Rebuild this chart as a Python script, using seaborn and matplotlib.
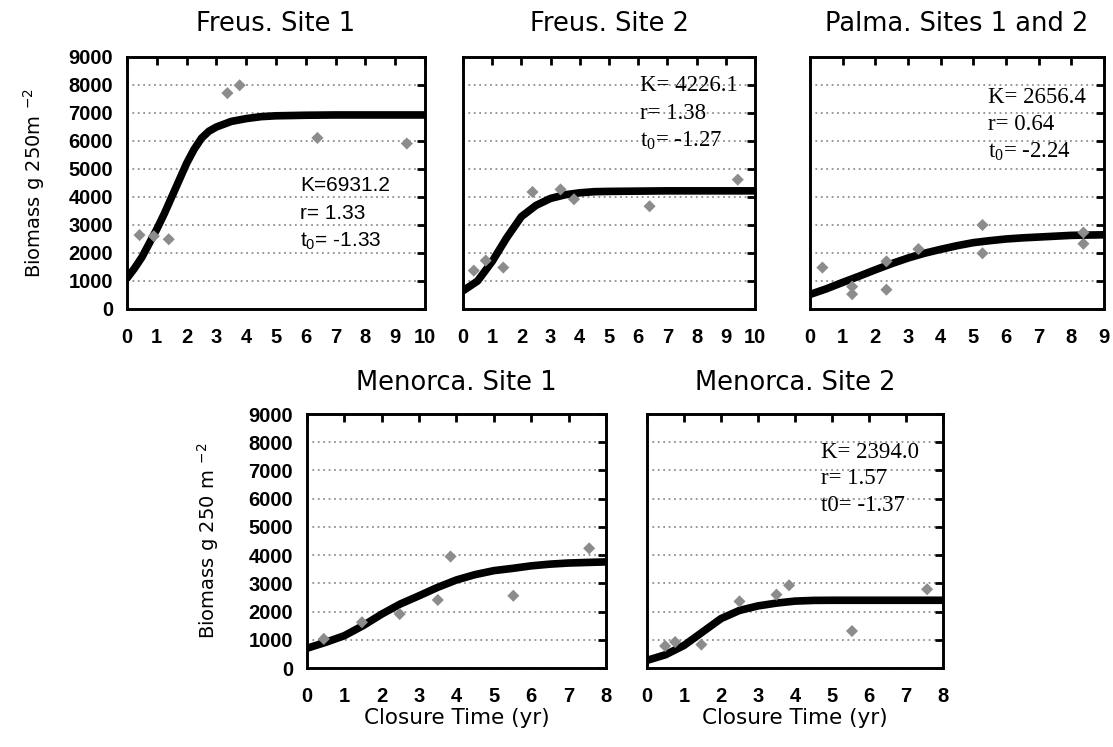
import numpy as np
import pandas as pd
import matplotlib
matplotlib.use("Agg")
import matplotlib.pyplot as plt
import seaborn as sns

# ---------------- data ----------------
titles = ["Freus. Site 1", "Freus. Site 2", "Palma. Sites 1 and 2",
          "Menorca. Site 1", "Menorca. Site 2"]
x_max = [10, 10, 9, 8, 8]

# observed biomass points
obs1_x = [0.42, 0.9, 1.40, 3.37, 3.78, 6.39, 9.39]
obs1_y = [2640, 2600, 2490, 7710, 7990, 6110, 5910]
obs2_x = [0.37, 0.78, 1.38, 2.38, 3.34, 3.80, 6.39, 9.41]
obs2_y = [1370, 1730, 1480, 4180, 4270, 3920, 3670, 4620]
obs3_x = [0.38, 1.29, 1.29, 2.34, 2.34, 3.32, 5.28, 5.28, 8.37, 8.37]
obs3_y = [1480, 800, 530, 1700, 690, 2140, 3000, 1990, 2730, 2330]
obs4_x = [0.45, 1.47, 2.48, 3.50, 3.84, 5.52, 7.55]
obs4_y = [1030, 1620, 1910, 2410, 3950, 2560, 4240]
obs5_x = [0.49, 0.76, 1.47, 2.50, 3.50, 3.84, 5.54, 7.57]
obs5_y = [780, 920, 830, 2360, 2600, 2930, 1310, 2790]

# fitted curves
fit1_x = [0, 0.25, 0.5, 0.75, 1.0, 1.25, 1.5, 1.75, 2.0, 2.25, 2.5, 2.75, 3.0,
          3.5, 4.0, 4.5, 5, 6, 7, 8, 9, 10]
fit1_y = [1100, 1450, 1850, 2350, 2850, 3400, 4000, 4600, 5200, 5700, 6100,
          6350, 6500, 6700, 6800, 6870, 6900, 6920, 6930, 6930, 6930, 6930]
fit2_x = [0, 0.5, 1.0, 1.5, 2.0, 2.5, 3.0, 3.5, 4.0, 4.5, 5, 6, 7, 8, 9, 10]
fit2_y = [650, 1000, 1700, 2550, 3300, 3700, 3950, 4080, 4150, 4190, 4200,
          4210, 4220, 4220, 4220, 4220]
fit3_x = [0, 0.5, 1, 1.5, 2, 2.5, 3, 3.5, 4, 4.5, 5, 5.5, 6, 6.5, 7, 7.5, 8,
          8.5, 9]
fit3_y = [520, 720, 950, 1170, 1400, 1620, 1820, 1990, 2130, 2260, 2370, 2440,
          2500, 2540, 2570, 2600, 2630, 2640, 2650]
fit4_x = [0, 0.5, 1, 1.5, 2, 2.5, 3, 3.5, 4, 4.5, 5, 5.5, 6, 6.5, 7, 7.5, 8]
fit4_y = [700, 910, 1145, 1500, 1910, 2270, 2560, 2860, 3120, 3310, 3450,
          3530, 3620, 3680, 3720, 3740, 3760]
fit5_x = [0, 0.5, 1, 1.5, 2, 2.5, 3, 3.5, 4, 4.5, 5, 6, 7, 8]
fit5_y = [270, 470, 800, 1275, 1750, 2040, 2200, 2300, 2370, 2395, 2400,
          2400, 2400, 2400]

# model parameters text
param_lines = [
    ["K=6931.2", "r= 1.33", "t$_0$= -1.33"],
    ["K= 4226.1", "r= 1.38", "t$_0$= -1.27"],
    ["K= 2656.4", "r= 0.64", "t$_0$= -2.24"],
    None,
    ["K= 2394.0", "r= 1.57", "t0= -1.37"],
]

y_ticks = list(range(0, 9001, 1000))
y_label = "Biomass g 250m $^{-2}$"
y_label2 = "Biomass g 250 m $^{-2}$"
x_label = "Closure Time (yr)"

obs = [(obs1_x, obs1_y), (obs2_x, obs2_y), (obs3_x, obs3_y),
       (obs4_x, obs4_y), (obs5_x, obs5_y)]
fits = [(fit1_x, fit1_y), (fit2_x, fit2_y), (fit3_x, fit3_y),
        (fit4_x, fit4_y), (fit5_x, fit5_y)]

# ---------------- style ----------------
sns.set_style("white")
plt.rcParams["font.family"] = ["DejaVu Sans"]
plt.rcParams["mathtext.default"] = "regular"
for key in ["text.color", "axes.labelcolor", "xtick.color", "ytick.color",
            "axes.edgecolor"]:
    plt.rcParams[key] = "black"

fig = plt.figure(figsize=(11.13, 7.47), dpi=100)
W, H = 1113, 747
pix = [(127, 57, 425, 309), (463, 57, 755, 309), (810, 57, 1104, 309),
       (307, 414, 606, 668), (647, 414, 943, 668)]

# text placement (data coords) and fonts
text_pos = [(5.81, 4420, 1010), (6.05, 7990, 1000), (5.45, 7540, 960), None,
            (4.69, 7650, 950)]
text_family = ["Liberation Sans", "Liberation Serif", "Liberation Serif", None,
               "Liberation Serif"]
text_size = [15, 16.5, 16.5, None, 16.5]

for i in range(5):
    l, t, r, b = pix[i]
    ax = fig.add_axes([l / W, 1 - b / H, (r - l) / W, (b - t) / H])
    fx, fy = fits[i]
    ox, oy = obs[i]
    sns.lineplot(x=fx, y=fy, ax=ax, color="black", lw=5.5, zorder=3)
    sns.scatterplot(x=ox, y=oy, ax=ax, color="#8c8c8c", marker="D", s=38,
                    edgecolor="none", zorder=4)
    ax.set_xlim(0, x_max[i])
    ax.set_ylim(0, 9000)
    ax.set_xticks(range(0, x_max[i] + 1))
    ax.set_yticks(y_ticks)
    ax.set_axisbelow(True)
    ax.grid(axis="y", linestyle=(0, (1, 2)), color="#8f8f8f", lw=1.3)
    ax.grid(axis="x", visible=False)
    for s in ax.spines.values():
        s.set_visible(True)
        s.set_linewidth(2.1)
        s.set_color("black")
    ax.tick_params(axis="both", which="both", direction="in", top=True,
                   right=True, length=6, width=2.0, color="black",
                   labelcolor="black")
    ax.tick_params(axis="x", pad=14)
    ax.tick_params(axis="y", pad=10)
    for lab in ax.get_xticklabels() + ax.get_yticklabels():
        lab.set_fontfamily("Liberation Sans")
        lab.set_fontweight("bold")
        lab.set_fontsize(14.5)
    if i not in (0, 3):
        ax.tick_params(axis="y", labelleft=False)
    ax.set_title(titles[i], fontsize=18.5, pad=19 if i < 3 else 17,
                 color="black")
    if i == 0:
        ax.set_ylabel(y_label, fontsize=14)
        ax.yaxis.set_label_coords(-0.27, 0.5)
    elif i == 3:
        ax.set_ylabel(y_label2, fontsize=14)
        ax.yaxis.set_label_coords(-0.288, 0.5)
    else:
        ax.set_ylabel("")
    if i >= 3:
        ax.set_xlabel(x_label, fontsize=15.5, labelpad=1)
    else:
        ax.set_xlabel("")
    if param_lines[i] is not None:
        tx, ty, dy = text_pos[i]
        for k, line in enumerate(param_lines[i]):
            ax.text(tx, ty - k * dy, line, fontsize=text_size[i],
                    family=text_family[i], va="center", ha="left", zorder=5,
                    color="black")

fig.savefig("out.png", dpi=100)
